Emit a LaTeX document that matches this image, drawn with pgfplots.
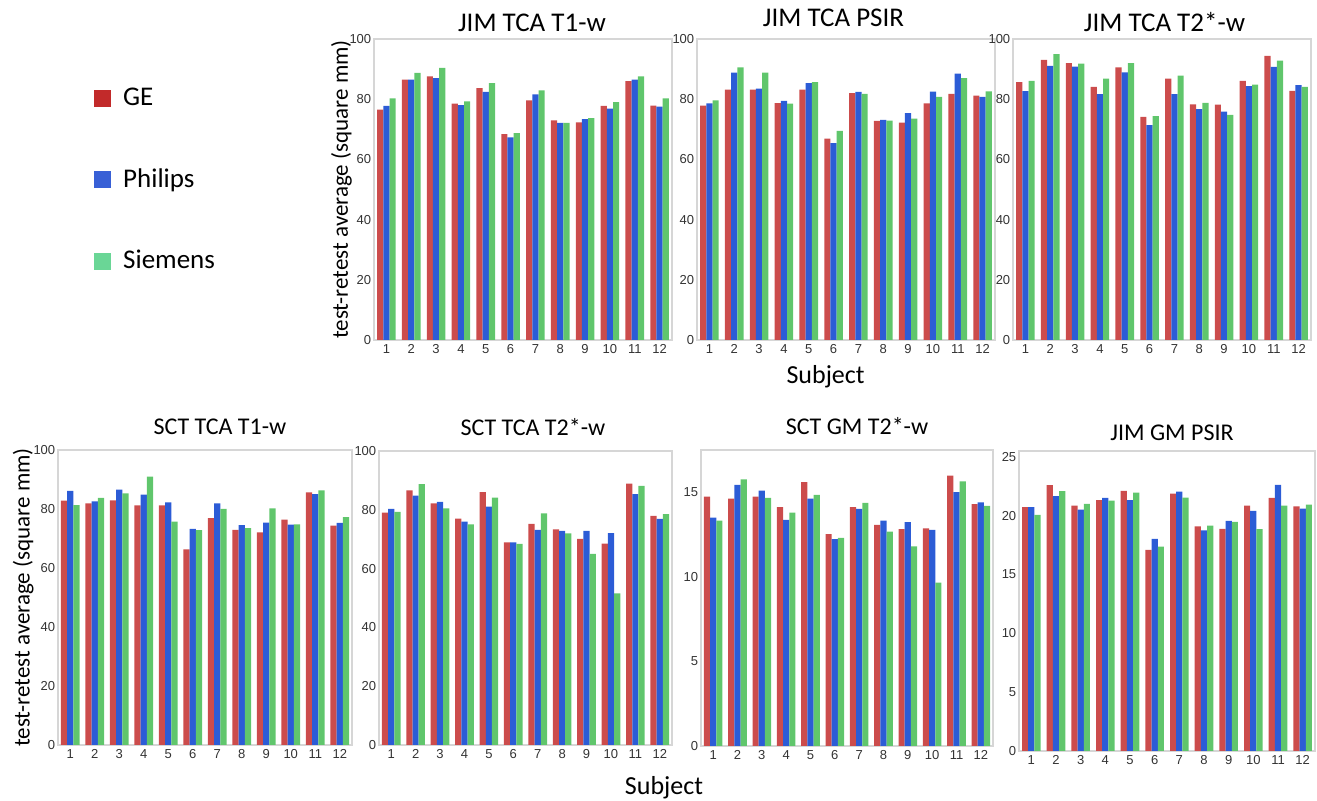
\documentclass[border=0pt]{standalone}
\usepackage{fontspec}
\setmainfont{Carlito}
\newfontfamily\tickfont{Liberation Sans}
\usepackage{pgfplots}
\usepackage{pgfplotstable}
\pgfplotsset{compat=1.18}

\definecolor{cGE}{RGB}{204,76,76}
\definecolor{cPH}{RGB}{44,92,214}
\definecolor{cSI}{RGB}{96,198,108}
\definecolor{lGE}{RGB}{194,42,42}
\definecolor{lPH}{RGB}{56,96,214}
\definecolor{lSI}{RGB}{106,214,150}

% test-retest averages, columns: subject, GE, Philips, Siemens
\pgfplotstableread{
s ge ph si
1 76.5 77.8 80.3
2 86.5 86.5 88.7
3 87.6 87.0 90.4
4 78.5 78.0 79.3
5 83.7 82.4 85.3
6 68.4 67.3 68.7
7 79.6 81.6 82.9
8 73.0 72.1 72.1
9 72.3 73.4 73.7
10 77.8 76.9 79.0
11 86.0 86.5 87.6
12 77.9 77.5 80.3
}\jimtcatone
\pgfplotstableread{
s ge ph si
1 77.9 78.6 79.6
2 83.2 88.8 90.6
3 83.2 83.5 88.8
4 78.7 79.4 78.5
5 83.2 85.3 85.7
6 66.9 65.4 69.5
7 82.0 82.4 81.8
8 72.8 73.1 72.9
9 72.2 75.4 73.5
10 78.6 82.5 80.8
11 81.8 88.5 87.0
12 81.2 80.8 82.6
}\jimtcapsir
\pgfplotstableread{
s ge ph si
1 85.7 82.7 86.1
2 93.1 91.1 95.0
3 92.0 90.8 91.8
4 84.1 81.7 86.8
5 90.6 88.9 92.0
6 74.1 71.4 74.4
7 86.8 81.7 87.8
8 78.3 76.7 78.8
9 78.2 75.9 74.8
10 86.1 84.3 84.8
11 94.4 90.7 92.8
12 82.8 84.7 84.1
}\jimtcattwo
\pgfplotstableread{
s ge ph si
1 82.8 86.1 81.3
2 81.9 82.6 83.8
3 82.9 86.6 85.3
4 81.2 84.9 91.0
5 81.2 82.2 75.7
6 66.3 73.3 72.8
7 76.9 81.9 80.0
8 72.9 74.5 73.5
9 72.1 75.4 80.2
10 76.4 74.7 74.8
11 85.6 85.0 86.3
12 74.4 75.3 77.2
}\scttcatone
\pgfplotstableread{
s ge ph si
1 79.0 80.3 79.3
2 86.6 84.8 88.7
3 82.2 82.7 80.5
4 77.0 76.0 75.0
5 86.0 81.1 84.1
6 68.9 68.9 68.4
7 75.2 73.2 78.8
8 73.3 72.8 72.0
9 70.1 72.8 65.0
10 68.5 72.1 51.6
11 88.9 85.3 88.1
12 77.9 76.9 78.5
}\scttcattwo
\pgfplotstableread{
s ge ph si
1 14.75 13.50 13.33
2 14.63 15.44 15.76
3 14.75 15.10 14.67
4 14.12 13.37 13.80
5 15.60 14.63 14.85
6 12.52 12.23 12.30
7 14.12 14.02 14.38
8 13.08 13.33 12.68
9 12.82 13.23 11.80
10 12.86 12.78 9.66
11 15.98 15.01 15.64
12 14.30 14.40 14.20
}\sctgmttwo
\pgfplotstableread{
s ge ph si
1 20.72 20.72 20.07
2 22.59 21.66 22.08
3 20.86 20.52 21.00
4 21.32 21.51 21.29
5 22.10 21.32 21.97
6 17.09 18.03 17.38
7 21.88 22.05 21.54
8 19.10 18.76 19.16
9 18.88 19.56 19.47
10 20.86 20.41 18.85
11 21.51 22.62 20.86
12 20.80 20.61 20.95
}\jimgmpsir

\pgfplotsset{
  panel/.style={
    ybar, scale only axis,
    xmin=0.5, xmax=12.5, ymin=0,
    xtick={1,...,12},
    bar width=3.1pt,
    axis line style={draw=black!16, line width=0.9pt},
    tick align=inside, ytick pos=left, xtick pos=bottom,
    tick style={draw=none},
    ticklabel style={font=\tickfont\fontsize{6.5}{7.5}\selectfont, text=black!80},
    yticklabel style={inner xsep=1.2pt},
    xticklabel style={inner ysep=2pt},
    /pgf/number format/assume math mode=true,
    every axis title/.style={at={(axis description cs:0.5,1)}, anchor=base},
    ylabel style={font=\fontsize{11.5}{13}\selectfont, anchor=center},
  },
  toprow/.style={panel, width=149pt, height=150.5pt, ymax=100,
    ytick={0,20,...,100},
    title style={font=\fontsize{13.5}{15}\selectfont}},
  botrow/.style={panel,
    title style={font=\fontsize{12}{14}\selectfont}},
  GE/.style={fill=cGE, draw=none, bar shift=-3.1pt},
  PH/.style={fill=cPH, draw=none, bar shift=0pt},
  SI/.style={fill=cSI, draw=none, bar shift=3.1pt},
}

\begin{document}
\begin{tikzpicture}
\useasboundingbox (0,0) rectangle (658.5pt,400.5pt);

% top row
\begin{axis}[toprow, at={(187pt,230.5pt)},
  title={JIM TCA T1-w}, title style={xshift=4.5pt, yshift=3.7pt},
  ylabel={test-retest average (square mm)},
  ylabel style={at={(axis description cs:-0.109,0.5)}},
  legend style={draw=none, fill=none, inner sep=0pt, row sep=26pt,
    at={(axis description cs:-0.9396,0.532)}, anchor=west,
    font=\fontsize{13.5}{15}\selectfont},
  legend cell align=left]
\addlegendimage{legend image code/.code={\fill[lGE] (0pt,-4pt) rectangle (8pt,4pt); \path (12pt,0pt);}}
\addlegendimage{legend image code/.code={\fill[lPH] (0pt,-4pt) rectangle (8pt,4pt); \path (12pt,0pt);}}
\addlegendimage{legend image code/.code={\fill[lSI] (0pt,-4pt) rectangle (8pt,4pt); \path (12pt,0pt);}}
\legend{GE,Philips,Siemens}
\addplot[GE] table[x=s,y=ge]{\jimtcatone};
\addplot[PH] table[x=s,y=ph]{\jimtcatone};
\addplot[SI] table[x=s,y=si]{\jimtcatone};
\end{axis}

\begin{axis}[toprow, at={(348.5pt,230.5pt)},
  title={JIM TCA PSIR}, title style={xshift=-6.25pt, yshift=6pt}]
\addplot[GE] table[x=s,y=ge]{\jimtcapsir};
\addplot[PH] table[x=s,y=ph]{\jimtcapsir};
\addplot[SI] table[x=s,y=si]{\jimtcapsir};
\end{axis}

\begin{axis}[toprow, at={(506.5pt,230.5pt)},
  title={JIM TCA T2*-w}, title style={xshift=1.25pt, yshift=3.5pt}]
\addplot[GE] table[x=s,y=ge]{\jimtcattwo};
\addplot[PH] table[x=s,y=ph]{\jimtcattwo};
\addplot[SI] table[x=s,y=si]{\jimtcattwo};
\end{axis}

\node[font=\fontsize{13}{15}\selectfont, anchor=base] at (412.8pt,208.8pt) {Subject};

% bottom row
\begin{axis}[botrow, at={(29pt,28pt)}, width=147pt, height=147.5pt,
  ymax=100, ytick={0,20,...,100},
  title={SCT TCA T1-w}, title style={xshift=7.5pt, yshift=7.5pt},
  ylabel={test-retest average (square mm)},
  ylabel style={at={(axis description cs:-0.118,0.5)}}]
\addplot[GE] table[x=s,y=ge]{\scttcatone};
\addplot[PH] table[x=s,y=ph]{\scttcatone};
\addplot[SI] table[x=s,y=si]{\scttcatone};
\end{axis}

\begin{axis}[botrow, at={(189.5pt,28pt)}, width=146.5pt, height=147pt,
  ymax=100, ytick={0,20,...,100},
  title={SCT TCA T2*-w}, title style={xshift=3.75pt, yshift=7.5pt}]
\addplot[GE] table[x=s,y=ge]{\scttcattwo};
\addplot[PH] table[x=s,y=ph]{\scttcattwo};
\addplot[SI] table[x=s,y=si]{\scttcattwo};
\end{axis}

\begin{axis}[botrow, at={(350.5pt,27.5pt)}, width=146pt, height=148pt,
  ymax=17.5, ytick={0,5,10,15},
  title={SCT GM T2*-w}, title style={xshift=5pt, yshift=7.5pt}]
\addplot[GE] table[x=s,y=ge]{\sctgmttwo};
\addplot[PH] table[x=s,y=ph]{\sctgmttwo};
\addplot[SI] table[x=s,y=si]{\sctgmttwo};
\end{axis}

\begin{axis}[botrow, at={(509.5pt,25pt)}, width=148pt, height=150pt,
  ymax=25.5, ytick={0,5,...,25},
  title={JIM GM PSIR}, title style={xshift=2.5pt, yshift=5.2pt}]
\addplot[GE] table[x=s,y=ge]{\jimgmpsir};
\addplot[PH] table[x=s,y=ph]{\jimgmpsir};
\addplot[SI] table[x=s,y=si]{\jimgmpsir};
\end{axis}

\node[font=\fontsize{13}{15}\selectfont, anchor=base] at (332pt,3.3pt) {Subject};
\end{tikzpicture}
\end{document}
